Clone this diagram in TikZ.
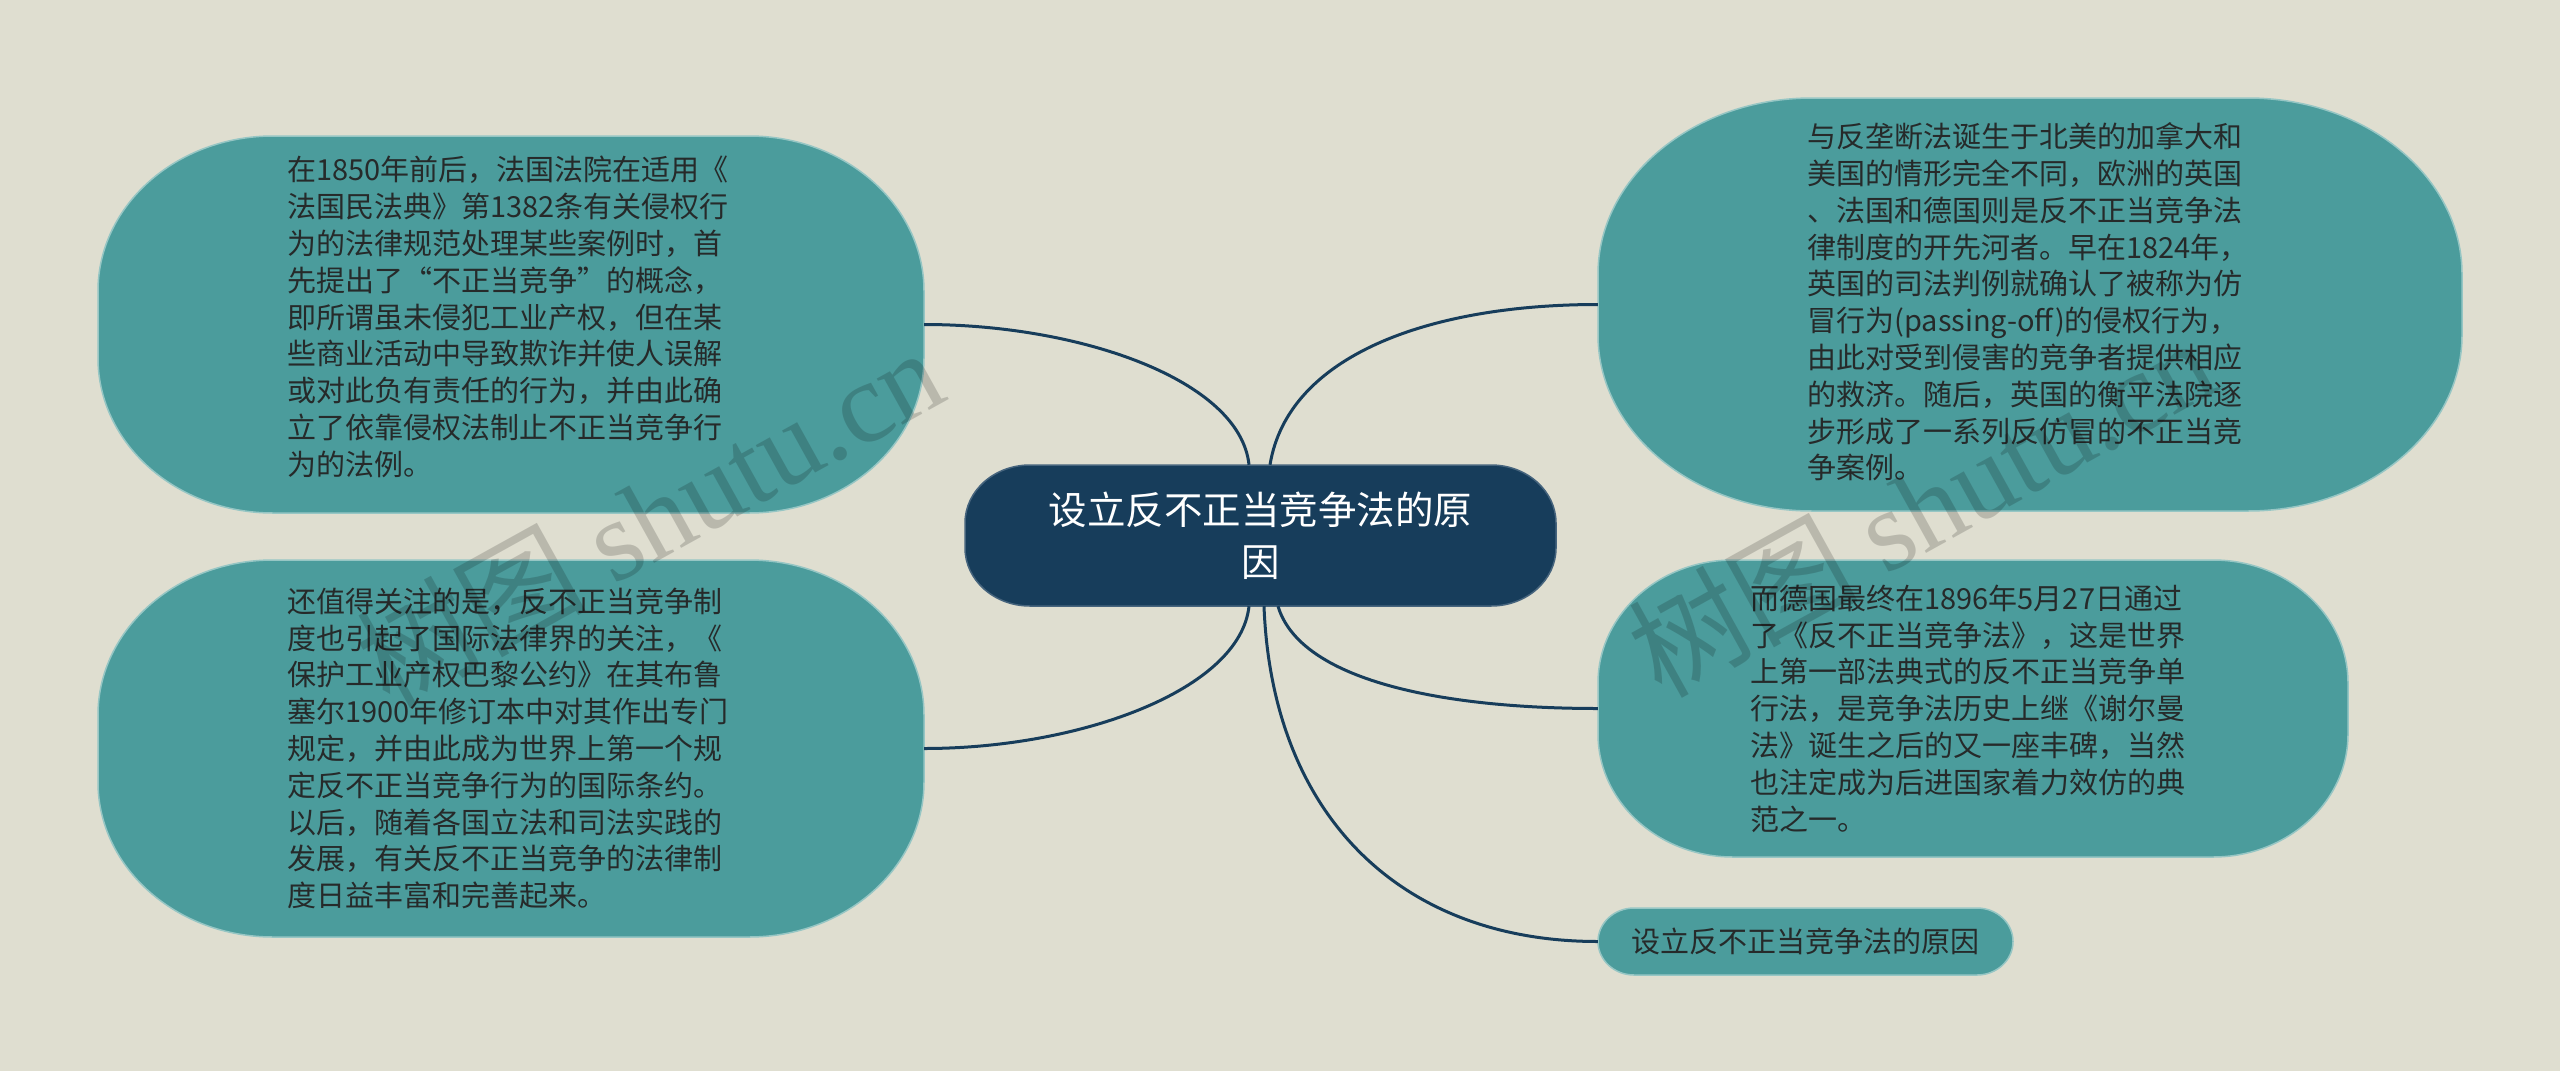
\documentclass[tikz,border=0pt]{standalone}
\usepackage{fontspec}
\setmainfont{Noto Sans CJK SC}
\newfontfamily\wmlatin{Liberation Serif}
\definecolor{bgc}{RGB}{223,222,208}
\definecolor{tealc}{RGB}{75,156,156}
\definecolor{rimc}{RGB}{150,198,196}
\definecolor{navyc}{RGB}{23,61,91}
\definecolor{navyrim}{RGB}{70,100,125}
\definecolor{txtc}{RGB}{38,42,42}
% #1 style, #2 x1, #3 y1, #4 x2, #5 y2, #6 rx, #7 ry
\newcommand{\blobshape}[7]{%
  \path[#1] ({#2+#6},#3) -- ({#4-#6},#3)
    arc[start angle=90,end angle=0,x radius=#6pt,y radius=#7pt]
    -- (#4,{#5-#7})
    arc[start angle=0,end angle=-90,x radius=#6pt,y radius=#7pt]
    -- ({#2+#6},#5)
    arc[start angle=-90,end angle=-180,x radius=#6pt,y radius=#7pt]
    -- (#2,{#3+#7})
    arc[start angle=180,end angle=90,x radius=#6pt,y radius=#7pt]
    -- cycle;}
\tikzset{
  boxarea/.style 2 args={minimum width=#1pt, minimum height=#2pt, inner sep=0pt},
  leaf/.style={text=txtc, font=\fontsize{29}{36.8}\selectfont, align=left, inner sep=0pt},
  rootnode/.style={text=white, font=\fontsize{38.5}{52}\selectfont, align=center, inner sep=0pt},
  leaffill/.style={fill=tealc, draw=rimc, line width=1.5pt},
  rootfill/.style={fill=navyc, draw=navyrim, line width=1.5pt},
  link/.style={draw=navyc, line width=3pt},
  wmark/.style={opacity=0.17, text=black, rotate=29, font=\fontsize{115}{120}\selectfont, inner sep=0pt}
}
\begin{document}
\begin{tikzpicture}[x=1pt,y=-1pt]
\fill[bgc] (0,0) rectangle (2560,1071);
\useasboundingbox (0,0) rectangle (2560,1071);

% shapes
\blobshape{leaffill}{98}{136}{924}{513}{175}{155}
\blobshape{leaffill}{98}{560}{924}{937}{175}{155}
\blobshape{leaffill}{1598}{98}{2462}{511}{214}{176}
\blobshape{leaffill}{1598}{560}{2348}{857}{135}{123}
\blobshape{leaffill}{1598}{908}{2013}{975}{36}{33.5}
\blobshape{rootfill}{965}{465}{1556}{606}{65}{58}

% node areas (match the shapes above)
\node[boxarea={591}{141}] (root) at (1260.5,535.5) {};
\node[boxarea={826}{377}] (lt) at (511,324.5) {};
\node[boxarea={826}{377}] (lb) at (511,748.5) {};
\node[boxarea={864}{413}] (rt) at (2030,304.5) {};
\node[boxarea={750}{297}] (rm) at (1973,708.5) {};
\node[boxarea={415}{67}] (rb) at (1805.5,941.5) {};

% texts
\node[rootnode] (roottext) at (1260.5,535.5) {设立反不正当竞争法的原\\因};

\node[leaf] (lttext) at (508,317) {%
在1850年前后，法国法院在适用《\\
法国民法典》第1382条有关侵权行\\
为的法律规范处理某些案例时，首\\
先提出了“不正当竞争”的概念，\\
即所谓虽未侵犯工业产权，但在某\\
些商业活动中导致欺诈并使人误解\\
或对此负有责任的行为，并由此确\\
立了依靠侵权法制止不正当竞争行\\
为的法例。};

\node[leaf] (lbtext) at (508,748.5) {%
还值得关注的是，反不正当竞争制\\
度也引起了国际法律界的关注，《\\
保护工业产权巴黎公约》在其布鲁\\
塞尔1900年修订本中对其作出专门\\
规定，并由此成为世界上第一个规\\
定反不正当竞争行为的国际条约。\\
以后，随着各国立法和司法实践的\\
发展，有关反不正当竞争的法律制\\
度日益丰富和完善起来。};

\node[leaf] (rttext) at (2028,302) {%
与反垄断法诞生于北美的加拿大和\\
美国的情形完全不同，欧洲的英国\\
、法国和德国则是反不正当竞争法\\
律制度的开先河者。早在1824年，\\
英国的司法判例就确认了被称为仿\\
冒行为(passing-off)的侵权行为，\\
由此对受到侵害的竞争者提供相应\\
的救济。随后，英国的衡平法院逐\\
步形成了一系列反仿冒的不正当竞\\
争案例。};

\node[leaf] (rmtext) at (1968,708.5) {%
而德国最终在1896年5月27日通过\\
了《反不正当竞争法》，这是世界\\
上第一部法典式的反不正当竞争单\\
行法，是竞争法历史上继《谢尔曼\\
法》诞生之后的又一座丰碑，当然\\
也注定成为后进国家着力效仿的典\\
范之一。};

\node[leaf] (rbtext) at (1805.5,941.5) {设立反不正当竞争法的原因};

% connectors
\draw[link] ([xshift=-11.5pt]root.north) .. controls (1240,380) and (1080,324.5) .. (lt.east);
\draw[link] ([xshift=9.5pt]root.north) .. controls (1288,355) and (1430,304.5) .. (rt.west);
\draw[link] ([xshift=-11.5pt]root.south) .. controls (1240,690) and (1080,748.5) .. (lb.east);
\draw[link] ([xshift=17.5pt]root.south) .. controls (1300,680) and (1440,708.5) .. (rm.west);
\draw[link] ([xshift=3.5pt]root.south) .. controls (1272,815) and (1400,941.5) .. (rb.west);

% watermark
\node[wmark] (wm1) at (649,516) {树图 {\wmlatin shutu.cn}};
\node[wmark] (wm2) at (1921,506) {树图 {\wmlatin shutu.cn}};
\end{tikzpicture}
\end{document}
